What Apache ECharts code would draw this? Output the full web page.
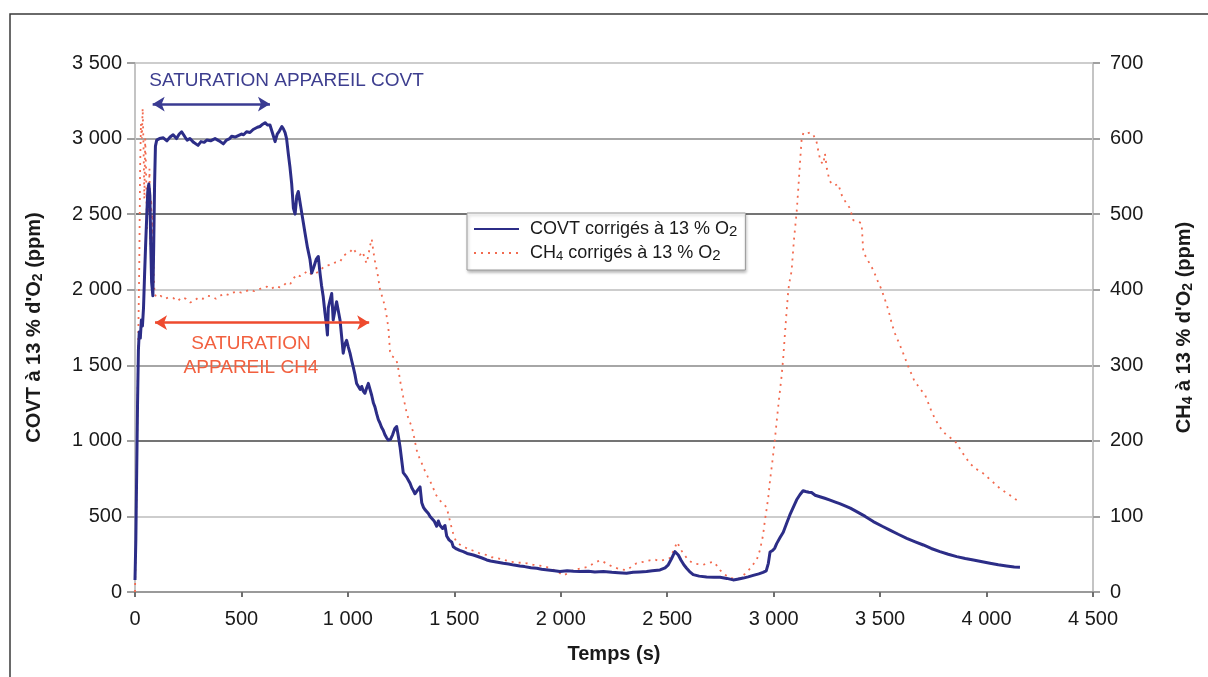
<!DOCTYPE html>
<html lang="fr">
<head>
<meta charset="utf-8">
<title>COVT et CH4 corrigés à 13 % O2</title>
<script src="https://cdn.jsdelivr.net/npm/echarts@6/dist/echarts.min.js"></script>
<style>
  html, body { margin: 0; padding: 0; background: #fff; }
  #chart { width: 1208px; height: 677px; }
</style>
</head>
<body>
<div id="chart"></div>
<script>
// Time axis (s) and value ticks
const timeTicks = [0, 500, 1000, 1500, 2000, 2500, 3000, 3500, 4000, 4500];
const covtTicks = [0, 500, 1000, 1500, 2000, 2500, 3000, 3500];
const ch4Ticks = [0, 100, 200, 300, 400, 500, 600, 700];

// COVT corrected to 13 % O2 (ppm, left axis)
const covtTime = [0,4,8,12,16,20,25,30,35,40,45,50,55,60,65,70,74,78,84,88,92,96,102,115,133,150,165,179,195,208,219,235,245,258,275,296,310,325,337,355,376,395,415,430,445,454,470,485,500,510,524,540,555,564,575,587,600,611,622,634,645,658,668,678,690,697,705,712,720,728,736,744,752,760,767,775,783,790,798,810,822,830,840,851,861,869,876,884,892,900,904,908,916,924,931,940,947,955,963,970,978,986,994,1002,1010,1018,1025,1033,1041,1050,1058,1065,1072,1080,1088,1096,1104,1112,1120,1127,1135,1143,1150,1158,1166,1174,1182,1190,1200,1210,1220,1229,1237,1245,1252,1260,1268,1276,1284,1292,1300,1308,1315,1323,1331,1339,1347,1355,1362,1370,1378,1386,1394,1405,1417,1425,1433,1445,1456,1464,1475,1488,1495,1510,1525,1542,1560,1575,1589,1610,1630,1652,1670,1690,1710,1730,1755,1780,1808,1830,1860,1887,1910,1940,1970,1996,2030,2060,2090,2130,2160,2200,2240,2270,2309,2340,2370,2403,2430,2466,2490,2505,2520,2536,2545,2552,2565,2578,2591,2605,2622,2650,2685,2720,2748,2780,2810,2830,2857,2880,2904,2930,2950,2965,2975,2983,2995,3005,3014,3030,3045,3061,3076,3092,3108,3124,3138,3150,3165,3178,3195,3217,3240,3265,3290,3310,3327,3360,3390,3430,3468,3510,3546,3585,3625,3665,3703,3740,3781,3820,3860,3900,3938,3980,4016,4055,4094,4130,4157];
const covtPpm = [80,350,800,1250,1600,1720,1680,1800,1760,1880,2100,2300,2480,2650,2700,2620,2300,2050,1960,2300,2700,2950,2990,3000,3005,2985,3010,3025,3000,3030,3045,3010,2990,3000,2975,2955,2980,2975,2990,2985,3000,2985,2965,2990,3000,3015,3010,3020,3030,3025,3045,3040,3060,3055,3075,3080,3095,3105,3090,3090,3040,2980,3030,3050,3080,3065,3040,3000,2900,2810,2700,2540,2500,2620,2650,2640,2510,2450,2380,2280,2200,2110,2150,2200,2220,2110,2030,1955,1850,1760,1700,1880,1930,1975,1800,1870,1920,1915,1800,1700,1580,1640,1665,1620,1580,1530,1490,1440,1380,1370,1340,1360,1330,1315,1350,1380,1380,1300,1250,1225,1180,1140,1120,1090,1070,1040,1020,1005,1010,1040,1080,1095,1030,960,880,790,780,760,740,720,690,670,650,640,680,695,590,560,545,540,520,500,495,470,435,470,440,420,440,370,345,330,300,285,275,267,255,250,245,235,225,212,205,200,195,190,185,178,172,168,160,157,150,145,140,135,140,137,135,138,133,135,130,128,124,130,133,135,140,146,160,180,220,267,260,245,210,180,157,135,115,105,100,98,97,90,80,85,92,100,110,120,130,140,190,265,275,290,320,360,395,455,510,560,610,645,670,665,660,658,640,630,620,608,595,585,575,555,532,500,466,435,410,382,355,332,311,288,267,250,234,222,212,200,190,180,172,165,163];

// CH4 corrected to 13 % O2 (ppm, right axis)
const ch4Time = [0,5,10,15,20,24,28,32,36,40,44,48,52,56,60,64,68,72,76,80,84,88,92,100,120,140,160,180,200,220,240,260,280,300,320,340,360,380,400,420,440,460,480,500,520,540,560,587,600,620,640,660,681,700,714,730,745,759,775,790,810,830,850,869,885,900,920,940,963,980,995,1010,1025,1040,1057,1070,1080,1088,1096,1104,1112,1120,1127,1140,1151,1162,1174,1182,1190,1198,1206,1214,1221,1229,1237,1245,1252,1260,1268,1276,1284,1292,1300,1311,1323,1335,1345,1354,1366,1376,1386,1400,1415,1433,1450,1464,1476,1488,1500,1511,1530,1550,1573,1597,1620,1650,1675,1699,1730,1761,1800,1840,1870,1900,1934,1960,1990,2012,2035,2059,2090,2122,2150,2170,2184,2200,2225,2247,2280,2309,2330,2356,2390,2419,2440,2466,2490,2513,2530,2547,2560,2575,2600,2622,2645,2669,2690,2716,2730,2748,2770,2795,2820,2842,2865,2889,2905,2920,2936,2950,2959,2967,2975,2983,2995,3005,3015,3025,3037,3045,3053,3061,3069,3077,3084,3095,3108,3116,3123,3131,3140,3155,3170,3185,3194,3202,3210,3220,3233,3241,3250,3262,3272,3288,3303,3320,3340,3358,3374,3395,3413,3421,3440,3468,3488,3507,3525,3539,3555,3570,3600,3630,3660,3690,3711,3740,3760,3781,3810,3851,3885,3922,3950,3984,4020,4063,4100,4130,4149];
const ch4Ppm = [0,90,200,330,430,560,620,600,640,590,520,600,560,480,540,500,560,460,520,450,500,420,395,390,392,388,390,389,385,390,388,383,386,390,388,392,391,388,392,395,393,396,398,396,398,400,398,401,403,404,401,405,403,406,410,408,415,420,418,420,425,420,422,425,430,432,433,436,437,445,448,450,455,448,446,450,440,435,445,458,467,450,438,420,400,390,378,365,350,318,312,314,310,306,295,280,270,258,248,237,230,224,219,205,188,178,172,165,158,152,147,138,128,121,116,112,98,84,72,66,62,59,56,54,51,49,46,45,43,40,39,38,36,35,33,30,26,22,25,29,31,33,37,40,42,40,36,33,30,29,33,38,40,42,43,41,43,45,55,66,58,51,42,38,37,36,38,40,36,29,23,19,17,18,24,31,37,42,56,75,95,110,126,148,175,200,228,255,285,310,342,372,400,415,424,465,503,535,565,598,608,607,608,606,607,595,583,570,566,580,560,545,540,538,540,525,515,508,492,490,488,450,440,426,412,400,385,373,355,342,322,300,280,268,261,240,228,218,208,200,185,170,163,157,148,137,130,124,120];

// Annotation texts
const covtNote = 'SATURATION APPAREIL COVT';
const ch4Note = 'SATURATION\nAPPAREIL CH4';

const covtData = covtTime.map((t, i) => [t, covtPpm[i]]);
const ch4Data = ch4Time.map((t, i) => [t, ch4Ppm[i]]);

const FONT = '"Liberation Sans", Arial, Helvetica, sans-serif';
const NAVY = '#2c2d87';
const ORANGE = '#f26a4f';
const ARROW_RED = '#ee4a2e';

const thousands = v => String(v).replace(/\B(?=(\d{3})+(?!\d))/g, ' ');

const chart = echarts.init(document.getElementById('chart'), null, { renderer: 'canvas' });

chart.setOption({
  animation: false,
  backgroundColor: '#ffffff',
  textStyle: { fontFamily: FONT },
  graphic: [{
    type: 'rect',
    silent: true,
    z: -10,
    shape: { x: 10, y: 14, width: 1400, height: 900 },
    style: { fill: 'none', stroke: '#3a3a3a', lineWidth: 1.5 }
  }],
  grid: { left: 135, right: 115, top: 63, bottom: 85 },
  legend: {
    data: ['COVT', 'CH4'],
    orient: 'vertical',
    left: 467,
    top: 213,
    padding: [7, 8, 7, 6],
    itemGap: 5,
    itemWidth: 45,
    itemHeight: 14,
    backgroundColor: '#ffffff',
    borderColor: '#9a9a9a',
    borderWidth: 1,
    shadowColor: 'rgba(0,0,0,0.28)',
    shadowBlur: 3,
    shadowOffsetX: 1,
    shadowOffsetY: 2,
    itemStyle: { opacity: 0 },
    formatter: name => name === 'COVT'
      ? '{t|COVT corrigés à 13 % O}{o|2}'
      : '{t|CH}{s|4}{t| corrigés à 13 % O}{o|2}',
    textStyle: {
      color: '#1a1a1a',
      fontFamily: FONT,
      padding: [0, 0, 0, 6],
      rich: {
        t: { fontSize: 18, fontFamily: FONT, color: '#1a1a1a', lineHeight: 20 },
        o: { fontSize: 15, fontFamily: FONT, color: '#1a1a1a', lineHeight: 20, verticalAlign: 'bottom' },
        s: { fontSize: 13, fontFamily: FONT, color: '#1a1a1a', lineHeight: 8, verticalAlign: 'bottom' }
      }
    }
  },
  xAxis: {
    type: 'value',
    min: timeTicks[0],
    max: timeTicks[timeTicks.length - 1],
    interval: 500,
    name: 'Temps (s)',
    nameLocation: 'middle',
    nameGap: 52,
    nameTextStyle: { fontSize: 20, fontWeight: 'bold', color: '#1a1a1a', fontFamily: FONT },
    axisLine: { show: true, lineStyle: { color: '#9a9a9a', width: 2 } },
    axisTick: { show: true, inside: false, length: 5, lineStyle: { color: '#6e6e6e', width: 2 } },
    axisLabel: { fontSize: 20, color: '#1a1a1a', margin: 17, fontFamily: FONT, formatter: thousands },
    splitLine: { show: false }
  },
  yAxis: [{
    type: 'value',
    position: 'left',
    min: covtTicks[0],
    max: covtTicks[covtTicks.length - 1],
    interval: 500,
    name: '{b|COVT à 13 % d\'O}{s|2}{b| (ppm)}',
    nameLocation: 'middle',
    nameRotate: 90,
    nameGap: 90,
    nameTextStyle: {
      rich: {
        b: { fontSize: 20, fontWeight: 'bold', color: '#1a1a1a', fontFamily: FONT, lineHeight: 22 },
        s: { fontSize: 14, fontWeight: 'bold', color: '#1a1a1a', fontFamily: FONT, lineHeight: 12, verticalAlign: 'bottom' }
      }
    },
    axisLine: { show: true, lineStyle: { color: '#c4c4c4', width: 2 } },
    axisTick: { show: true, inside: false, length: 8, lineStyle: { color: '#a0a0a0', width: 2 } },
    axisLabel: { fontSize: 20, color: '#1a1a1a', margin: 13, fontFamily: FONT, formatter: thousands },
    splitLine: { show: true, lineStyle: { color: ['#a6a6a6', '#cdcdcd', '#747474'], width: 2 } }
  }, {
    type: 'value',
    position: 'right',
    min: ch4Ticks[0],
    max: ch4Ticks[ch4Ticks.length - 1],
    interval: 100,
    name: '{b|CH}{s|4}{b| à 13 % d\'O}{s|2}{b| (ppm)}',
    nameLocation: 'middle',
    nameRotate: 90,
    nameGap: 80,
    nameTextStyle: {
      rich: {
        b: { fontSize: 20, fontWeight: 'bold', color: '#1a1a1a', fontFamily: FONT, lineHeight: 22 },
        s: { fontSize: 14, fontWeight: 'bold', color: '#1a1a1a', fontFamily: FONT, lineHeight: 12, verticalAlign: 'bottom' }
      }
    },
    axisLine: { show: true, lineStyle: { color: '#c4c4c4', width: 2 } },
    axisTick: { show: true, inside: false, length: 7, lineStyle: { color: '#a0a0a0', width: 2 } },
    axisLabel: { fontSize: 20, color: '#1a1a1a', margin: 17, fontFamily: FONT },
    splitLine: { show: false }
  }],
  series: [{
    name: 'COVT',
    type: 'line',
    yAxisIndex: 0,
    data: covtData,
    symbol: 'none',
    z: 4,
    lineStyle: { color: NAVY, width: 3, join: 'round' },
    itemStyle: { color: NAVY },
    markLine: {
      silent: true,
      symbol: ['arrow', 'arrow'],
      symbolSize: [11, 12],
      label: { show: false },
      data: [
        [{ coord: [83, 3228], lineStyle: { color: '#3a3b92', width: 2.5, type: 'solid' } }, { coord: [634, 3228] }],
        [{ coord: [94, 1782], lineStyle: { color: ARROW_RED, width: 2.5, type: 'solid' } }, { coord: [1100, 1782] }]
      ]
    },
    markPoint: {
      silent: true,
      symbol: 'circle',
      symbolSize: 0,
      data: [
        { coord: [712, 3385], label: { show: true, position: 'inside', formatter: covtNote, fontSize: 19, color: '#3d3e8f', fontFamily: FONT } },
        { coord: [545, 1562], label: { show: true, position: 'inside', formatter: ch4Note, fontSize: 19, lineHeight: 24, color: '#f2603f', fontFamily: FONT } }
      ]
    }
  }, {
    name: 'CH4',
    type: 'line',
    yAxisIndex: 1,
    data: ch4Data,
    symbol: 'none',
    z: 3,
    lineStyle: { color: ORANGE, width: 1.8, type: [2, 5] },
    itemStyle: { color: ORANGE }
  }]
});
</script>
</body>
</html>
